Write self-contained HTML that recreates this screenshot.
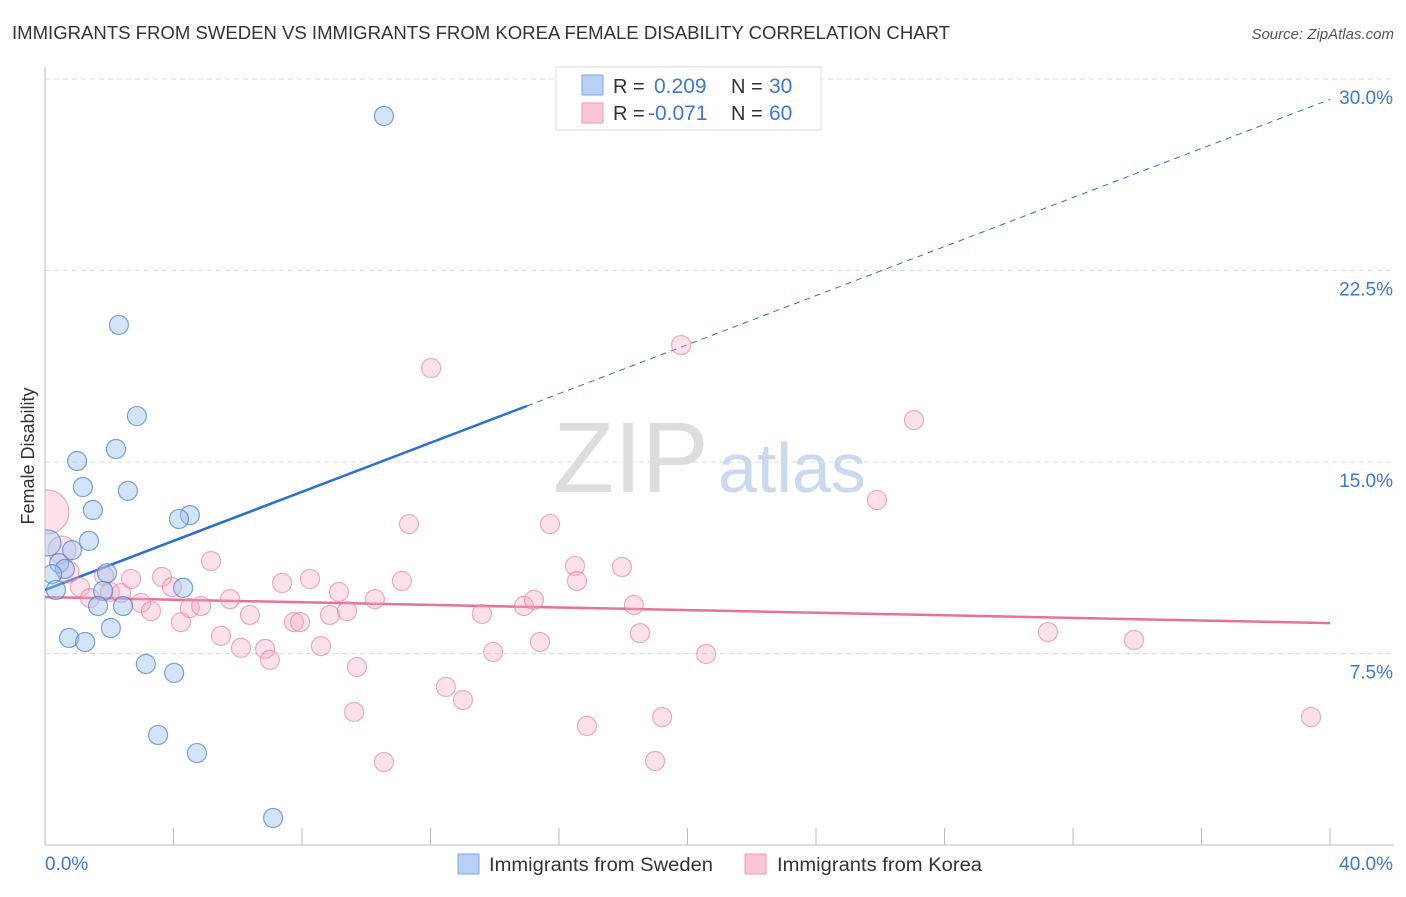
<!DOCTYPE html>
<html><head><meta charset="utf-8"><style>
body{margin:0;background:#fff;font-family:"Liberation Sans",sans-serif;}
svg text{font-family:"Liberation Sans",sans-serif;}
</style></head><body>
<svg id="chart" width="1406" height="892" xmlns="http://www.w3.org/2000/svg">
<defs><clipPath id="plotclip"><rect x="45" y="60" width="1360" height="785"/></clipPath></defs>
<text x="12" y="39" font-size="18" fill="#333" textLength="938" lengthAdjust="spacingAndGlyphs">IMMIGRANTS FROM SWEDEN VS IMMIGRANTS FROM KOREA FEMALE DISABILITY CORRELATION CHART</text>
<text x="1394" y="39" font-size="15" fill="#555" text-anchor="end" font-style="italic">Source: ZipAtlas.com</text>
<text transform="translate(34,456) rotate(-90)" font-size="18" fill="#333" text-anchor="middle">Female Disability</text>
<g>
<text x="553" y="492" font-size="100" fill="#ddd" font-family="Liberation Serif,serif">ZIP</text>
<text x="718" y="492" font-size="70" fill="#c9d9ef">atlas</text>
</g>
<g id="grid"></g><g id="axes"></g><g id="trend"></g><g id="dots" clip-path="url(#plotclip)"></g>
<g>
<rect x="556" y="67" width="265" height="63" fill="#fff" stroke="#ddd"/>
<rect x="582" y="75" width="21" height="20" fill="#b8d0f3" stroke="#7fa8e3"/>
<rect x="582" y="103" width="21" height="20" fill="#f9c6d5" stroke="#ee9ab3"/>
<text x="613" y="93" font-size="20" fill="#333">R =</text><text x="654" y="93" font-size="21" fill="#3b78d8">0.209</text>
<text x="731" y="93" font-size="20" fill="#333">N =</text><text x="769" y="93" font-size="21" fill="#3b78d8">30</text>
<text x="613" y="120" font-size="20" fill="#333">R =</text><text x="648" y="120" font-size="21" fill="#3b78d8">-0.071</text>
<text x="731" y="120" font-size="20" fill="#333">N =</text><text x="769" y="120" font-size="21" fill="#3b78d8">60</text>
</g>
<g>
<rect x="458" y="854" width="21" height="20" fill="#b8d0f3" stroke="#7fa8e3"/>
<text x="489" y="871" font-size="19" fill="#333" textLength="224" lengthAdjust="spacingAndGlyphs">Immigrants from Sweden</text>
<rect x="745" y="854" width="21" height="20" fill="#f9c6d5" stroke="#ee9ab3"/>
<text x="777" y="871" font-size="19" fill="#333" textLength="205" lengthAdjust="spacingAndGlyphs">Immigrants from Korea</text>
</g>
</svg>
<script>
const yTicks=[7.5,15,22.5,30];
const yTickLabels=["7.5%","15.0%","22.5%","30.0%"];
const xTicks=[0,4,8,12,16,20,24,28,32,36,40];
const xEndLabels=["0.0%","40.0%"];
const swedenX=[10.55,2.30,2.86,2.21,1.00,1.18,2.58,1.49,4.51,4.17,1.37,0.84,0.09,0.44,0.62,1.93,0.22,0.34,1.81,4.30,1.65,2.43,0.75,1.25,2.05,3.14,4.02,3.52,4.73,7.10];
const swedenY=[28.55,20.37,16.80,15.51,15.04,14.02,13.87,13.12,12.92,12.77,11.91,11.55,11.83,11.04,10.81,10.65,10.61,9.99,9.95,10.07,9.36,9.36,8.11,7.95,8.50,7.09,6.74,4.31,3.60,1.06];
const koreaX=[0.06,0.53,0.72,1.09,1.40,1.84,2.02,2.37,2.68,2.99,3.30,3.64,3.95,4.23,4.51,4.86,5.17,5.48,5.76,6.10,6.38,6.85,7.00,7.38,7.75,7.94,8.25,8.59,8.87,9.15,9.40,9.71,9.62,10.27,10.55,11.11,11.33,12.02,12.48,13.01,13.60,13.95,14.91,15.22,15.41,15.72,16.50,16.56,16.87,17.96,18.33,18.52,18.99,19.21,19.80,20.58,25.90,27.05,31.22,33.90,39.41];
const koreaY=[13.04,11.55,10.69,10.10,9.67,10.54,9.91,9.87,10.42,9.48,9.16,10.50,10.10,8.73,9.28,9.36,11.12,8.19,9.63,7.72,9.01,7.68,7.25,10.26,8.73,8.73,10.42,7.79,9.01,9.91,9.16,6.97,5.21,9.63,3.25,10.34,12.57,18.68,6.19,5.68,9.05,7.56,9.36,9.60,7.95,12.57,10.93,10.34,4.66,10.89,9.40,8.30,3.29,5.01,19.58,7.48,13.51,16.64,8.34,8.03,5.01];
const swedenTrend=[9.99,29.2];
const koreaTrend=[9.71,8.69];
const NS="http://www.w3.org/2000/svg";
const X=v=>45+v/40*1285, Y=v=>845-v/30*766;
function mk(parent,tag,attrs){const e=document.createElementNS(NS,tag);for(const k in attrs)e.setAttribute(k,attrs[k]);document.getElementById(parent).appendChild(e);return e;}
yTicks.forEach((t,i)=>{
 const l=mk('grid','line',{x1:45,x2:1394,y1:Y(t),y2:Y(t),stroke:'#ddd','stroke-dasharray':'5,4'});
 
 
 const tx=mk('grid','text',{x:1393,y:Y(t)+25,'font-size':19,fill:'#3b78d8','text-anchor':'end'});tx.textContent=yTickLabels[i];
 
 
});
const ax=mk('axes','line',{x1:45,x2:45,y1:67,y2:845,stroke:'#bbb'});


const bx=mk('axes','line',{x1:45,x2:1394,y1:845,y2:845,stroke:'#bbb'});


xTicks.forEach(t=>{const l=mk('axes','line',{x1:X(t),x2:X(t),y1:828,y2:845,stroke:'#bbb'});
 
 });
const xl0=mk('axes','text',{x:45,y:870,'font-size':19,fill:'#3b78d8'});xl0.textContent=xEndLabels[0];


const xl1=mk('axes','text',{x:1393,y:870,'font-size':19,fill:'#3b78d8','text-anchor':'end'});xl1.textContent=xEndLabels[1];


const sw=v=>swedenTrend[0]+(swedenTrend[1]-swedenTrend[0])*v/40;
const t1=mk('trend','line',{x1:X(0),y1:Y(sw(0)),x2:X(15),y2:Y(sw(15)),stroke:'#2a6fd6','stroke-width':2.5});


const t2=mk('trend','line',{x1:X(15),y1:Y(sw(15)),x2:X(40),y2:Y(sw(40)),stroke:'#2a6fd6','stroke-width':1,'stroke-dasharray':'6,5'});


const t3=mk('trend','line',{x1:X(0),y1:Y(koreaTrend[0]),x2:X(40),y2:Y(koreaTrend[1]),stroke:'#e8709a','stroke-width':2.5});


koreaX.forEach((v,i)=>{const r=i==0?22:(i==1?14:(i==2?11:9.5));
 const c=mk('dots','circle',{cx:X(v),cy:Y(koreaY[i]),r:r,fill:'rgba(246,170,195,0.35)',stroke:'rgba(232,120,155,0.6)','stroke-width':1.2});
 
 });
swedenX.forEach((v,i)=>{const r=i==12?13:9.5;
 const c=mk('dots','circle',{cx:X(v),cy:Y(swedenY[i]),r:r,fill:'rgba(160,195,240,0.45)',stroke:'rgba(70,125,210,0.7)','stroke-width':1.2});
 
 });
</script>
</body></html>
